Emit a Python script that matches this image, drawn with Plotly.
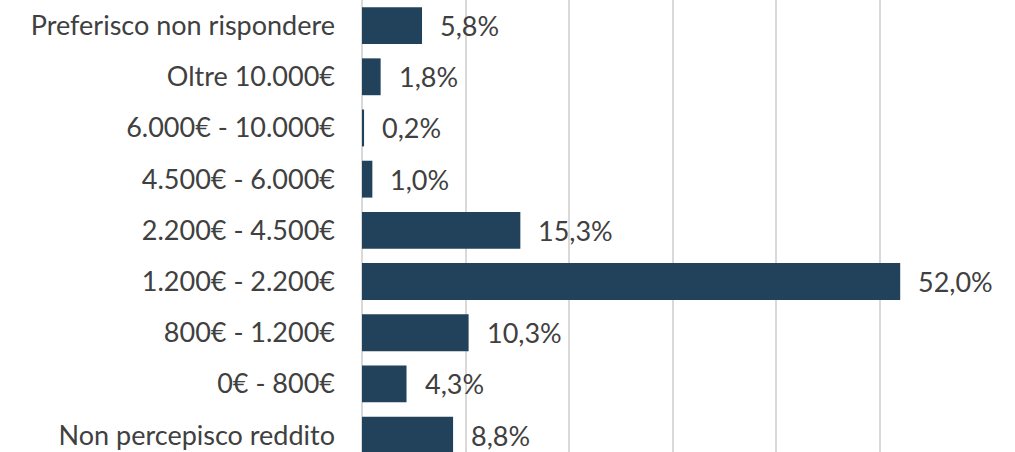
import plotly.graph_objects as go

categories = [
    "Non percepisco reddito",
    "0€ - 800€",
    "800€ - 1.200€",
    "1.200€ - 2.200€",
    "2.200€ - 4.500€",
    "4.500€ - 6.000€",
    "6.000€ - 10.000€",
    "Oltre 10.000€",
    "Preferisco non rispondere",
]
values = [8.8, 4.3, 10.3, 52.0, 15.3, 1.0, 0.2, 1.8, 5.8]
labels = [f"{v:.1f}%".replace(".", ",") for v in values]

FONT = "Lato"
TXT = "#404040"

fig = go.Figure(
    go.Bar(
        y=categories,
        x=values,
        orientation="h",
        marker=dict(color="#21425A", line=dict(width=0)),
        width=0.72,
        hoverinfo="skip",
    )
)

for c, v, t in zip(categories, values, labels):
    fig.add_annotation(
        x=v, y=c, text=t, showarrow=False, xanchor="left", yanchor="middle",
        xshift=16, font=dict(family=FONT, size=27, color=TXT),
    )

fig.update_layout(
    width=1015, height=452,
    margin=dict(l=362, r=32, t=0, b=0, autoexpand=False),
    plot_bgcolor="white", paper_bgcolor="white",
    showlegend=False,
    xaxis=dict(
        range=[0, 60], dtick=10, showticklabels=False, automargin=False,
        showgrid=True, gridcolor="#D9D9D9", gridwidth=1.5,
        zeroline=True, zerolinecolor="#D9D9D9", zerolinewidth=1.5,
        fixedrange=True,
    ),
    yaxis=dict(
        categoryorder="array", categoryarray=categories, automargin=False,
        range=[-0.33, 8.5],
        tickfont=dict(family=FONT, size=27, color=TXT),
        ticklabelstandoff=26, showgrid=False, zeroline=False,
        fixedrange=True,
    ),
)

fig.write_html(
    "out.html",
    config={"displayModeBar": False},
    post_script="document.body.style.margin='0';document.body.style.overflow='hidden';",
)
